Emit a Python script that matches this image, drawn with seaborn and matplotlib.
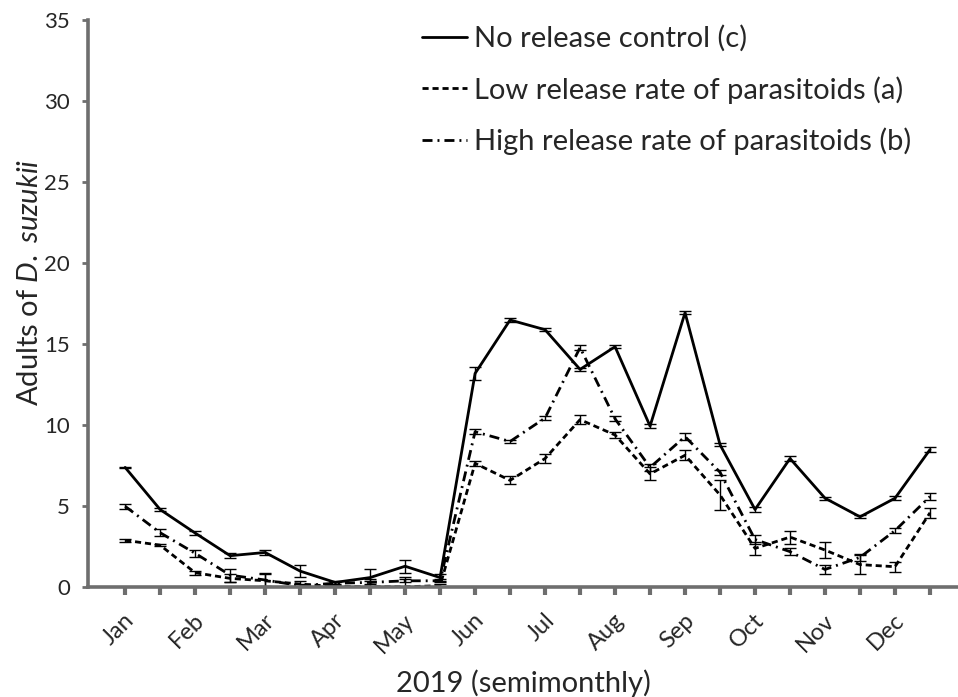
import numpy as np
import pandas as pd
import matplotlib
matplotlib.use("Agg")
import matplotlib.pyplot as plt
import matplotlib.transforms as mtransforms
import seaborn as sns

months = ["Jan", "Feb", "Mar", "Apr", "May", "Jun",
          "Jul", "Aug", "Sep", "Oct", "Nov", "Dec"]
periods = list(range(24))

# semimonthly means (two per month)
control = [7.4, 4.8, 3.35, 1.95, 2.15, 1.0, 0.3, 0.6, 1.3, 0.6, 13.2, 16.5,
           15.9, 13.45, 14.85, 9.95, 16.95, 8.8, 4.8, 7.95, 5.5, 4.35, 5.5, 8.5]
control_se = [0.05, 0.1, 0.12, 0.15, 0.15, 0.35, 0.1, 0.5, 0.4, 0.2, 0.4, 0.1,
              0.1, 0.1, 0.1, 0.1, 0.1, 0.1, 0.15, 0.15, 0.1, 0.1, 0.12, 0.15]

low_rate = [2.9, 2.6, 0.9, 0.55, 0.4, 0.2, 0.05, 0.03, 0.03, 0.1, 7.65, 6.6,
            7.95, 10.35, 9.4, 7.0, 8.15, 5.7, 2.4, 3.1, 2.3, 1.4, 1.27, 4.6]
low_se = [0.1, 0.08, 0.12, 0.25, 0.5, 0.2, 0.1, 0.5, 0.6, 0.1, 0.15, 0.25,
          0.3, 0.3, 0.2, 0.4, 0.3, 0.9, 0.4, 0.4, 0.5, 0.6, 0.3, 0.3]

high_rate = [5.0, 3.37, 2.1, 0.75, 0.45, 0.1, 0.25, 0.3, 0.4, 0.4, 9.6, 9.0,
             10.45, 14.8, 10.4, 7.4, 9.3, 7.1, 2.95, 2.2, 1.1, 1.85, 3.5, 5.6]
high_se = [0.15, 0.2, 0.2, 0.4, 0.4, 0.1, 0.1, 0.1, 0.1, 0.1, 0.15, 0.08,
           0.1, 0.15, 0.15, 0.2, 0.2, 0.15, 0.3, 0.2, 0.3, 0.2, 0.15, 0.2]

labels = ["No release control (c)",
          "Low release rate of parasitoids (a)",
          "High release rate of parasitoids (b)"]

df = pd.DataFrame({
    "period": periods * 3,
    "adults": control + low_rate + high_rate,
    "se": control_se + low_se + high_se,
    "treatment": [labels[0]] * 24 + [labels[1]] * 24 + [labels[2]] * 24,
})

sns.set_style("white")
plt.rcParams["font.family"] = ["Lato", "DejaVu Sans"]
plt.rcParams["mathtext.fontset"] = "custom"
plt.rcParams["mathtext.rm"] = "Lato"
plt.rcParams["mathtext.it"] = "Lato:italic"

fig = plt.figure(figsize=(9.58, 6.97), dpi=100)
ax = fig.add_axes([0.0919, 0.1574, 0.9081, 0.8135])

grey = "#6e6e6e"
dash_styles = {labels[0]: "",
               labels[1]: (2.2, 1.4),
               labels[2]: (3.6, 1.8, 0.7, 1.8)}

sns.lineplot(data=df, x="period", y="adults", hue="treatment", style="treatment",
             palette=["black"] * 3, dashes=dash_styles, linewidth=2.0,
             errorbar=None, ax=ax, legend=True)

for name in labels:
    sub = df[df["treatment"] == name]
    ax.errorbar(sub["period"], sub["adults"], yerr=sub["se"], fmt="none",
                ecolor="black", elinewidth=1.0, capsize=4, capthick=1.0)

ax.set_xlim(-1.06, 23.8)
ax.set_ylim(0, 35)
ax.set_yticks(range(0, 36, 5))
ax.set_xticks(periods)
ax.set_xticklabels([months[i // 2] if i % 2 == 0 else "" for i in periods],
                   rotation=45, ha="right", va="center", rotation_mode="anchor",
                   fontsize=17)
ax.tick_params(axis="y", labelsize=16, length=4, width=2, color=grey, left=True,
               pad=9)
ax.tick_params(axis="x", length=6, width=3, color=grey, bottom=True, pad=14)

# nudge month labels a little to the right, like the original
shift = mtransforms.ScaledTranslation(6 / 100, -2 / 100, fig.dpi_scale_trans)
for lab in ax.get_xticklabels():
    lab.set_transform(lab.get_transform() + shift)

for side in ["top", "right"]:
    ax.spines[side].set_visible(False)
for side in ["left", "bottom"]:
    ax.spines[side].set_color(grey)
    ax.spines[side].set_linewidth(2.6)

ax.set_xlabel("2019 (semimonthly)", fontsize=21)
ax.xaxis.set_label_coords(0.5, -0.145)
ax.set_ylabel(r"Adults of $\mathit{D.\ suzukii}$", fontsize=21)
ax.yaxis.set_label_coords(-0.052, 0.538)

ax.legend(title=None, frameon=False, fontsize=21, handlelength=1.55,
          handletextpad=0.25, labelspacing=0.82, loc="upper left",
          bbox_to_anchor=(0.37, 1.012), borderaxespad=0)

fig.savefig("out.png", dpi=100)
